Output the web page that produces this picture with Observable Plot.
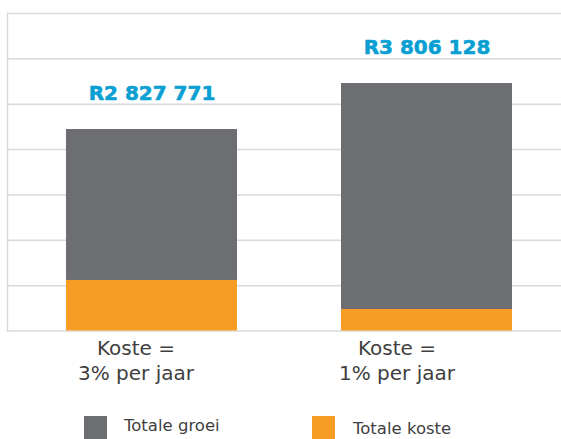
<!DOCTYPE html>
<html><head><meta charset="utf-8">
<script src="https://cdn.jsdelivr.net/npm/d3@7"></script>
<script src="https://cdn.jsdelivr.net/npm/@observablehq/plot@0.6"></script>
<style>
body{margin:0;background:#fff;font-family:"DejaVu Sans",Verdana,sans-serif;}
#wrap{position:relative;width:561px;height:439px;overflow:hidden;}
#chart svg{display:block;}
.sw{position:absolute;width:23px;height:23px;}
.lt{position:absolute;font-size:16.5px;color:#404040;white-space:nowrap;line-height:normal;}
</style></head><body>
<div id="wrap"><div id="chart"></div><div id="legend"></div></div>
<script>
const categories = ["Koste =\n3% per jaar", "Koste =\n1% per jaar"];
const seriesNames = ["Totale groei", "Totale koste"];
const growth = [1664000, 2491000];
const costs = [557000, 237000];
const totalLabels = ["R2 827 771", "R3 806 128"];
const yTicks = [0, 500000, 1000000, 1500000, 2000000, 2500000, 3000000, 3500000];
const colors = ["#6d6e71", "#f79c24"];

const rows = [];
categories.forEach((c, i) => {
  rows.push({cat: c, series: seriesNames[1], value: costs[i]});
  rows.push({cat: c, series: seriesNames[0], value: growth[i]});
});
const labelRows = categories.map((c, i) => ({cat: c, total: growth[i] + costs[i], label: totalLabels[i]}));

const chart = Plot.plot({
  width: 561, height: 395,
  marginLeft: 7, marginRight: 0, marginTop: 13, marginBottom: 64.5,
  style: {fontFamily: "'DejaVu Sans', Verdana, sans-serif", background: "transparent"},
  x: {domain: categories, range: [12, 566], paddingInner: 0.378, paddingOuter: 0.196, label: null, axis: null},
  y: {domain: [0, 3500000], label: null, axis: null},
  color: {domain: seriesNames, range: colors},
  marks: [
    Plot.ruleY(yTicks, {stroke: "#d9d9d9", strokeWidth: 1.5}),
    Plot.frame({anchor: "left", stroke: "#d9d9d9", strokeWidth: 1.5}),
    Plot.barY(rows, {x: "cat", y: "value", fill: "series"}),
    Plot.text(labelRows, {x: "cat", y: "total", text: "label", dy: -30, lineAnchor: "bottom",
      fontSize: 20, fontWeight: "bold", fill: "#0a9fd3", stroke: "#0a9fd3", strokeWidth: 0.6}),
    Plot.axisX([categories[0]], {tickSize: 0, tickPadding: 6, fontSize: 20, lineHeight: 1.25, color: "#404040", dx: -16}),
    Plot.axisX([categories[1]], {tickSize: 0, tickPadding: 6, fontSize: 20, lineHeight: 1.25, color: "#404040", dx: -30})
  ]
});
document.getElementById("chart").appendChild(chart);

const legendPos = [{sx: 84, tx: 124, ty: 416}, {sx: 312, tx: 353, ty: 419}];
const leg = document.getElementById("legend");
seriesNames.forEach((name, i) => {
  const s = document.createElement("div");
  s.className = "sw"; s.style.left = legendPos[i].sx + "px"; s.style.top = "416px"; s.style.background = colors[i];
  const t = document.createElement("div");
  t.className = "lt"; t.style.left = legendPos[i].tx + "px"; t.style.top = legendPos[i].ty + "px"; t.textContent = name;
  leg.appendChild(s); leg.appendChild(t);
});
</script>
</body></html>
